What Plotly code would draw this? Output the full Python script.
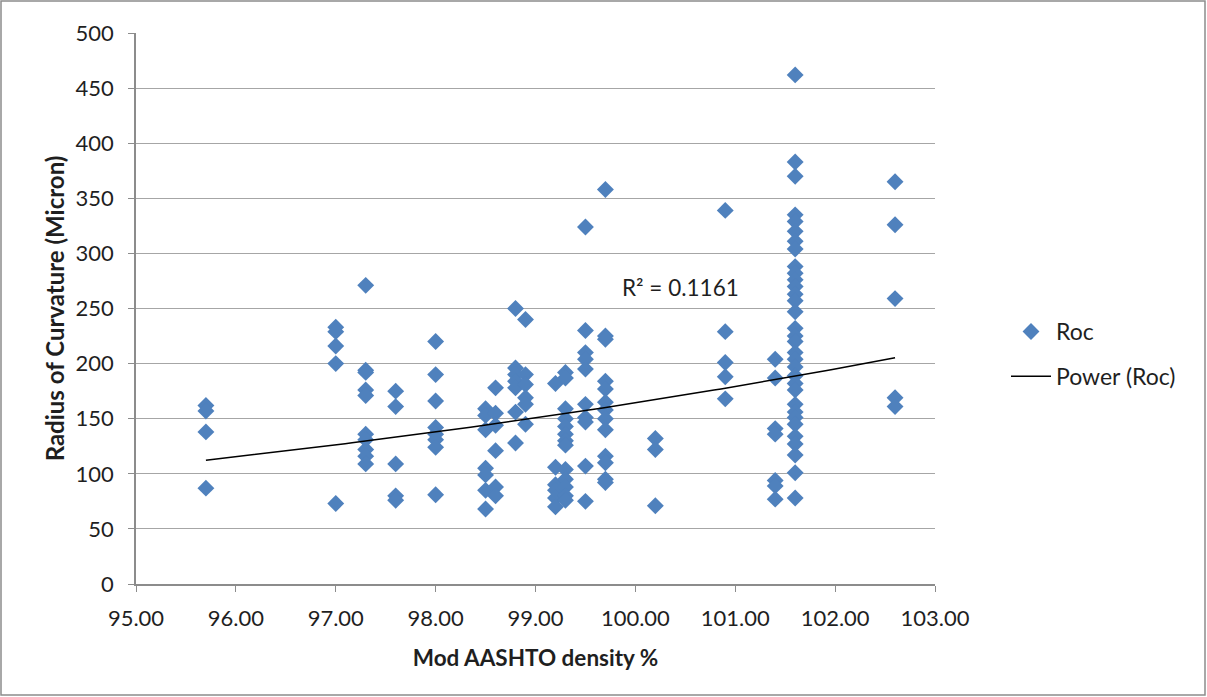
import numpy as np
import plotly.graph_objects as go

# Mod AASHTO density levels (%) and Radius of Curvature (micron) values read per level
density_levels = [95.7, 97.0, 97.3, 97.6, 98.0, 98.5, 98.6, 98.8, 98.9, 99.2,
                  99.3, 99.5, 99.7, 100.2, 100.9, 101.4, 101.6, 102.6]
roc_957 = [162, 157, 138, 87]
roc_970 = [233, 229, 216, 200, 73]
roc_973 = [271, 194, 192, 176, 171, 136, 131, 122, 116, 109]
roc_976 = [175, 161, 109, 80, 76]
roc_980 = [220, 190, 166, 142, 136, 131, 124, 81]
roc_985 = [159, 153, 140, 105, 99, 85, 68]
roc_986 = [178, 155, 144, 121, 88, 80]
roc_988 = [250, 196, 190, 184, 178, 156, 128]
roc_989 = [240, 190, 181, 169, 163, 145]
roc_992 = [182, 106, 90, 85, 78, 70]
roc_993 = [192, 187, 159, 150, 143, 136, 130, 126, 104, 95, 88, 80, 76]
roc_995 = [324, 230, 210, 204, 195, 163, 151, 147, 107, 75]
roc_997 = [358, 225, 222, 184, 177, 165, 158, 150, 140, 116, 110, 95, 92]
roc_1002 = [132, 122, 71]
roc_1009 = [339, 229, 201, 188, 168]
roc_1014 = [204, 187, 141, 136, 94, 89, 77]
roc_1016 = [462, 383, 370, 335, 329, 320, 311, 304, 288, 282, 276, 270, 263, 257,
            247, 232, 225, 220, 210, 204, 197, 189, 182, 176, 163, 156, 151, 145,
            134, 127, 117, 101, 78]
roc_1026 = [365, 326, 259, 169, 161]
roc_groups = [roc_957, roc_970, roc_973, roc_976, roc_980, roc_985, roc_986, roc_988,
              roc_989, roc_992, roc_993, roc_995, roc_997, roc_1002, roc_1009,
              roc_1014, roc_1016, roc_1026]

x_ticks = [95, 96, 97, 98, 99, 100, 101, 102, 103]
x_tick_labels = ["95.00", "96.00", "97.00", "98.00", "99.00", "100.00", "101.00", "102.00", "103.00"]
y_ticks = [0, 50, 100, 150, 200, 250, 300, 350, 400, 450, 500]
r2_text = "R\u00b2 = 0.1161"

density = []
roc = []
for d, vals in zip(density_levels, roc_groups):
    density += [d] * len(vals)
    roc += vals
density = np.array(density, dtype=float)
roc = np.array(roc, dtype=float)

# Power trendline (Excel style: ln y = ln a + b ln x)
b, ln_a = np.polyfit(np.log(density), np.log(roc), 1)
tx = np.linspace(density.min(), density.max(), 100)
ty = np.exp(ln_a) * tx ** b

FONT = "Lato"
TXT = "#1f1f1f"
fig = go.Figure()
fig.add_trace(go.Scatter(x=density, y=roc, mode="markers", name="Roc", legendgroup="a",
                         marker=dict(symbol="diamond", size=13, color="#4f81bd")))
fig.add_trace(go.Scatter(x=tx, y=ty, mode="lines", name="Power (Roc)", legendgroup="b",
                         line=dict(color="black", width=1.5)))

L, R, T, B = 136, 272, 33, 113
W, H = 1207, 697
pw, ph = W - L - R, H - T - B

fig.update_layout(
    width=W, height=H,
    margin=dict(l=L, r=R, t=T, b=B),
    paper_bgcolor="white", plot_bgcolor="white",
    font=dict(family=FONT, size=22, color=TXT),
    showlegend=True,
    legend=dict(x=(1006 - L) / pw, y=(H - B - 354) / ph, xanchor="left", yanchor="middle",
                font=dict(family=FONT, size=23, color=TXT),
                bgcolor="rgba(0,0,0,0)", tracegroupgap=12, itemwidth=40),
    xaxis=dict(range=[95, 103], tickvals=x_ticks, ticktext=x_tick_labels,
               tickfont=dict(size=22), ticklabelstandoff=8,
               showgrid=False, zeroline=False, showline=True, linecolor="#8c8c8c",
               linewidth=1.5, ticks="outside", tickcolor="#8c8c8c", ticklen=6,
               title=dict(text="<b>Mod AASHTO density %</b>", font=dict(size=22.5), standoff=20)),
    yaxis=dict(range=[0, 500], tickvals=y_ticks, showgrid=True, gridcolor="#a6a6a6",
               tickfont=dict(size=22), ticklabelstandoff=10,
               gridwidth=1.2, zeroline=False, showline=True, linecolor="#8c8c8c",
               linewidth=1.5, ticks="outside", tickcolor="#8c8c8c", ticklen=6,
               title=dict(text="<b>Radius of Curvature (Micron)</b>", font=dict(size=24), standoff=4)),
    annotations=[dict(x=99.85, y=269, xref="x", yref="y", text=r2_text, showarrow=False,
                      xanchor="left", yanchor="middle", font=dict(family=FONT, size=22.5, color=TXT))],
    shapes=[dict(type="rect", xref="paper", yref="paper",
                 x0=-(L - 1) / pw, x1=1 + (R - 2) / pw, y0=-(B - 2) / ph, y1=1 + (T - 1) / ph,
                 line=dict(color="#8c8c8c", width=1.5), fillcolor="rgba(0,0,0,0)")],
)
fig.write_html("out.html")
